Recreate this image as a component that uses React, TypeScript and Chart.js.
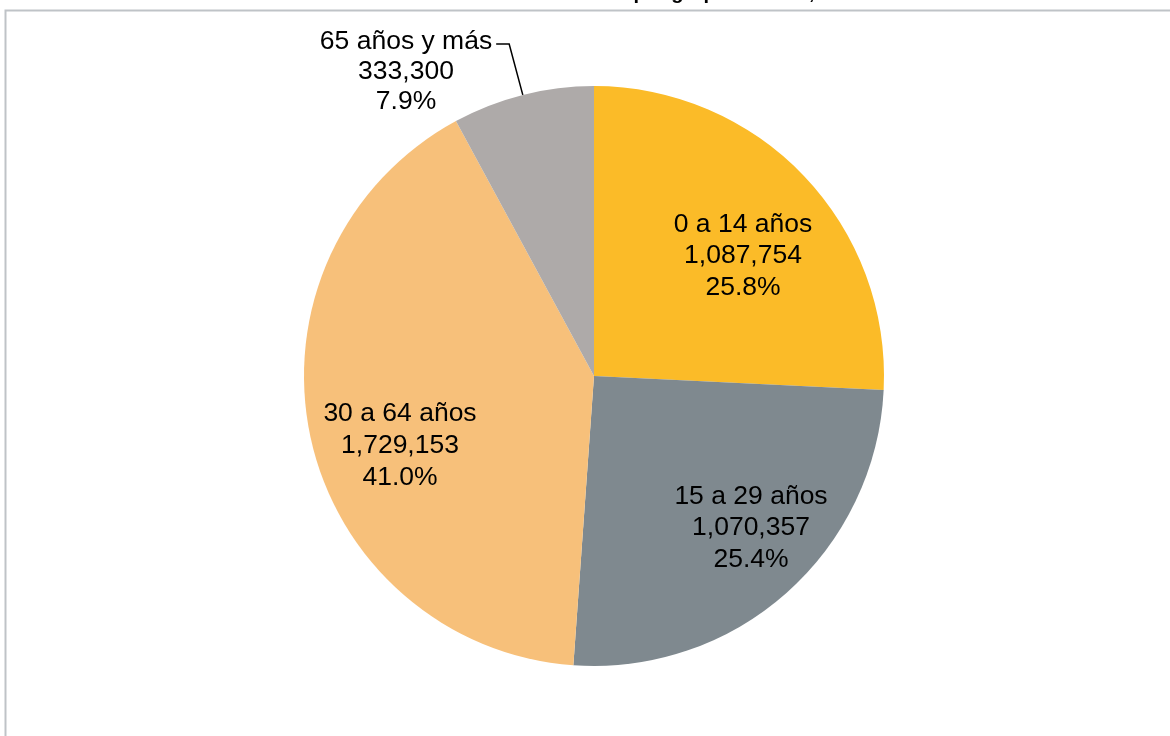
import React, { useEffect, useRef } from "react";
import { Chart, registerables } from "chart.js";

Chart.register(...registerables);

const titleText = "Población por grupo de edad, 2015";
const categories = ["0 a 14 años", "15 a 29 años", "30 a 64 años", "65 años y más"];
const values = [1087754, 1070357, 1729153, 333300];
const percentLabels = ["25.8%", "25.4%", "41.0%", "7.9%"];
const sliceColors = ["#FBBB28", "#7F898F", "#F7C07A", "#AEAAA9"];

const FONT = "'Liberation Sans', Arial, sans-serif";

// label centre offsets from the pie centre (middle line), px
const labelOffsets = [
  { dx: 149, dy: -120, gap: 31.5 },
  { dx: 157, dy: 152, gap: 31.5 },
  { dx: -194, dy: 70, gap: 32 },
  { dx: -188, dy: -304, gap: 30 },
];

const decorPlugin = {
  id: "decor",
  beforeDraw(chart: any) {
    const ctx = chart.ctx;
    ctx.save();
    ctx.fillStyle = "#ffffff";
    ctx.fillRect(0, 0, chart.width, chart.height);
    ctx.restore();
  },
  afterDraw(chart: any) {
    const ctx = chart.ctx;
    ctx.save();
    // frame
    ctx.strokeStyle = "#BFC3C7";
    ctx.lineWidth = 2;
    ctx.beginPath();
    ctx.moveTo(5.5, 736);
    ctx.lineTo(5.5, 10.5);
    ctx.lineTo(1170, 10.5);
    ctx.stroke();

    // title (clipped at top of page)
    ctx.font = `bold 20px ${FONT}`;
    ctx.fillStyle = "#000";
    ctx.textBaseline = "alphabetic";
    ctx.textAlign = "left";
    const pre = titleText.slice(0, titleText.indexOf(","));
    const preW = ctx.measureText(pre).width;
    ctx.fillText(titleText, 809 - preW, -1);

    // data labels
    const meta = chart.getDatasetMeta(0);
    ctx.font = `26.5px ${FONT}`;
    ctx.textAlign = "center";
    ctx.textBaseline = "middle";
    ctx.fillStyle = "#000";
    meta.data.forEach((arc: any, i: number) => {
      const o = labelOffsets[i];
      const cx = arc.x + o.dx;
      const cy = arc.y + o.dy;
      const lines = [
        categories[i],
        values[i].toLocaleString("en-US"),
        percentLabels[i],
      ];
      lines.forEach((t, k) => {
        ctx.fillText(t, cx, cy + (k - 1) * o.gap);
      });
      if (i === 3) {
        const mid = (arc.startAngle + arc.endAngle) / 2;
        const px = arc.x + arc.outerRadius * Math.cos(mid);
        const py = arc.y + arc.outerRadius * Math.sin(mid);
        const w = ctx.measureText(categories[i]).width;
        const lx = cx + w / 2 + 4;
        const ly = cy - o.gap + 2;
        ctx.strokeStyle = "#000";
        ctx.lineWidth = 1.5;
        ctx.beginPath();
        ctx.moveTo(lx, ly);
        ctx.lineTo(lx + 13, ly);
        ctx.lineTo(px, py);
        ctx.stroke();
      }
    });
    ctx.restore();
  },
};

export default function App() {
  const ref = useRef<HTMLCanvasElement>(null);
  useEffect(() => {
    if (!ref.current) return;
    const chart = new Chart(ref.current, {
      type: "pie",
      data: {
        labels: categories,
        datasets: [
          {
            data: values,
            backgroundColor: sliceColors,
            borderWidth: 0,
          },
        ],
      },
      options: {
        responsive: false,
        animation: false,
        layout: { padding: { left: 304, right: 286, top: 86, bottom: 70 } },
        plugins: {
          legend: { display: false },
          title: { display: false },
          tooltip: { enabled: false },
        },
      },
      plugins: [decorPlugin],
    });
    return () => chart.destroy();
  }, []);
  return (
    <div style={{ position: "fixed", left: 0, top: 0, width: 1170, height: 736, background: "#fff" }}>
      <canvas ref={ref} width={1170} height={736} style={{ display: "block" }} />
    </div>
  );
}
